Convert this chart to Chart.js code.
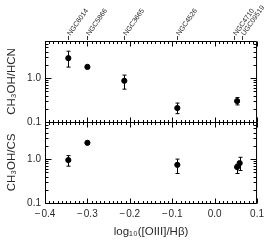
<!DOCTYPE html>
<html><head><meta charset="utf-8">
<script src="https://cdn.jsdelivr.net/npm/chart.js@4/dist/chart.umd.min.js"></script>
<style>html,body{margin:0;padding:0;background:#fff}#wrap{width:269px;height:241px}</style>
</head><body><div id="wrap"><canvas id="c" width="269" height="241"></canvas></div>
<script>
const galaxies = ['NGC6014','NGC5866','NGC3665','NGC4526','NGC4710','UGC09519'];
const o3hb     = [-0.345, -0.300, -0.213, -0.088, 0.053, 0.059];
const hcnRatio = [2.85, 1.80, 0.87, 0.208, 0.30, null];
const hcnLo    = [1.78, 1.65, 0.56, 0.155, 0.245, null];
const hcnHi    = [4.10, 1.95, 1.17, 0.27, 0.36, null];
const csRatio  = [0.95, 2.35, null, 0.74, 0.66, 0.81];
const csLo     = [0.69, 2.15, null, 0.47, 0.47, 0.55];
const csHi     = [1.20, 2.55, null, 1.00, 0.76, 1.10];
const xTicks = [-0.4, -0.3, -0.2, -0.1, 0.0, 0.1];
const yTicks = [0.1, 1.0];

function pts(vals, lo, hi){
  const out=[];
  vals.forEach((v,i)=>{ if(v!=null) out.push({x:o3hb[i], y:v, lo:lo[i], hi:hi[i]}); });
  return out;
}
const FONT = "'Liberation Sans', Arial, sans-serif";
const INK = '#2a2a2a';

const framePlugin = {
  id:'frame',
  afterDatasetsDraw(chart){
    const ctx=chart.ctx, xs=chart.scales.x;
    ctx.save();
    ctx.strokeStyle='#000'; ctx.lineWidth=1;
    // error bars
    chart.data.datasets.forEach((ds,di)=>{
      const ys=chart.scales[ds.yAxisID];
      ds.data.forEach(p=>{
        const px=Math.round(xs.getPixelForValue(p.x))+0.5;
        const y1=ys.getPixelForValue(p.lo), y2=ys.getPixelForValue(p.hi);
        ctx.beginPath();
        ctx.moveTo(px,y1); ctx.lineTo(px,y2);
        ctx.moveTo(px-2,y1); ctx.lineTo(px+2,y1);
        ctx.moveTo(px-2,y2); ctx.lineTo(px+2,y2);
        ctx.stroke();
      });
    });
    // boxes and ticks
    ['yHCN','yCS'].forEach(id=>{
      const ys=chart.scales[id];
      const L=xs.left+0.5, R=xs.right-0.5, T=Math.round(ys.top)+0.5, B=Math.round(ys.bottom)+0.5;
      ctx.beginPath();
      ctx.rect(L,T,R-L,B-T);
      for(let k=0;k<=50;k++){
        const v=-0.4+k*0.01;
        const px=Math.round(xs.getPixelForValue(v))+0.5;
        const len=(k%10===0)?5:2.5;
        ctx.moveTo(px,B); ctx.lineTo(px,B-len);
        ctx.moveTo(px,T); ctx.lineTo(px,T+len);
      }
      for(let d=0.1; d<=10; d*=10){
        for(let m=1;m<=9;m++){
          const v=d*m;
          if(v<ys.min-1e-9||v>ys.max+1e-9) continue;
          const py=Math.round(ys.getPixelForValue(v))+0.5;
          const len=(m===1)?6:3;
          ctx.moveTo(L,py); ctx.lineTo(L+len,py);
          ctx.moveTo(R,py); ctx.lineTo(R-len,py);
        }
      }
      ctx.stroke();
    });
    // galaxy labels on top
    const topY=Math.round(chart.scales.yHCN.top);
    ctx.fillStyle=INK;
    ctx.strokeStyle='#333';
    ctx.font="7px "+FONT;
    ctx.textBaseline='middle';
    ctx.textAlign='left';
    galaxies.forEach((g,i)=>{
      let px=Math.round(xs.getPixelForValue(o3hb[i]))+0.5;
      let off = (g==='NGC4710')?-3:(g==='UGC09519'?2:0);
      ctx.beginPath();
      ctx.moveTo(px+off,topY-1); ctx.lineTo(px+off,topY-5); ctx.stroke();
      ctx.save();
      ctx.translate(px+off+0.5,topY-6);
      ctx.rotate(-55*Math.PI/180);
      ctx.fillText(g,0,0);
      ctx.restore();
    });
    ctx.restore();
  }
};

function yScale(title){
  return {
    type:'logarithmic', position:'left', stack:'panels', stackWeight:1,
    min:0.1, max:7,
    grid:{display:false, drawTicks:false}, border:{display:false},
    afterBuildTicks(s){ s.ticks = yTicks.map(v=>({value:v})); },
    afterFit(s){ s.width=45; },
    ticks:{ color:INK, font:{family:FONT,size:10}, padding:4, callback:v=>Number(v).toFixed(1), autoSkip:false, maxRotation:0 },
    title:{ display:true, text:title, color:INK, font:{family:FONT,size:11.5}, padding:{top:5,bottom:0} }
  };
}

new Chart(document.getElementById('c'),{
  type:'scatter',
  data:{datasets:[
    {data:pts(hcnRatio,hcnLo,hcnHi), yAxisID:'yHCN', backgroundColor:'#000', borderColor:'#000', pointRadius:2.6, pointHoverRadius:2.6},
    {data:pts(csRatio,csLo,csHi), yAxisID:'yCS', backgroundColor:'#000', borderColor:'#000', pointRadius:2.6, pointHoverRadius:2.6}
  ]},
  options:{
    responsive:false, animation:false, events:[],
    layout:{padding:{top:41,right:10,left:0,bottom:0}},
    plugins:{legend:{display:false}, tooltip:{enabled:false}},
    scales:{
      x:{ type:'linear', min:-0.4, max:0.1,
        grid:{display:false, drawTicks:false}, border:{display:false},
        afterBuildTicks(s){ s.ticks = xTicks.map(v=>({value:v})); },
        afterFit(s){ s.height=38; },
        ticks:{ color:INK, font:{family:FONT,size:10}, padding:5, maxRotation:0, autoSkip:false,
          callback:v=>{ const n=Number(v); return Math.abs(n)<1e-9?'0.0':n.toFixed(1).replace('-','\u2212\u200A'); } },
        title:{ display:true, text:'log\u2081\u2080([OIII]/H\u03b2)', color:INK, font:{family:FONT,size:11.5}, padding:{top:0,bottom:2} }
      },
      yCS: yScale('CH\u2083OH/CS'),
      yHCN: yScale('CH\u2083OH/HCN')
    }
  },
  plugins:[framePlugin]
});
</script></body></html>
